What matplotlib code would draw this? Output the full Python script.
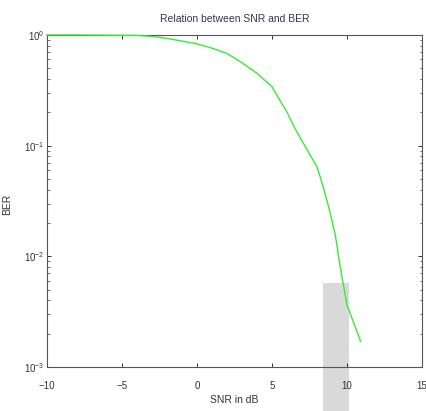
import matplotlib
matplotlib.use("Agg")
import matplotlib.pyplot as plt
from matplotlib.patches import Rectangle
from matplotlib.ticker import LogLocator, FixedLocator

plt.rcParams['font.family'] = ['Liberation Sans', 'DejaVu Sans']

snr_db = [-10, -8, -6, -4, -3, -2, -1, 0, 1, 2, 3, 4, 5, 5.5, 6, 6.5, 7, 7.5,
          8, 8.4, 8.8, 9.2, 9.55, 10, 10.4, 10.9]
ber = [1.0, 1.0, 0.995, 0.99, 0.97, 0.93, 0.88, 0.83, 0.76, 0.68, 0.56, 0.45,
       0.34, 0.26, 0.2, 0.145, 0.11, 0.084, 0.064, 0.043, 0.027, 0.016, 0.0079,
       0.0036, 0.0026, 0.0017]
x_ticks = [-10, -5, 0, 5, 10, 15]
# grey overlay band (artifact in the source image), in data units
band_x = [8.4, 10.13]
band_y = [10 ** -3.42, 0.0058]

fig = plt.figure(figsize=(4.26, 4.11), dpi=100)
ax = fig.add_axes([0.110, 0.107, 0.881, 0.808])

ax.plot(snr_db, ber, color='#33ee33', lw=1.0, zorder=3, clip_on=False)
ax.add_patch(Rectangle((band_x[0], band_y[0]), band_x[1] - band_x[0],
                       band_y[1] - band_y[0], facecolor='#d9d9d9',
                       edgecolor='none', zorder=1, clip_on=False))

ax.set_yscale('log')
ax.set_xlim(-10, 15)
ax.set_ylim(1e-3, 1)
ax.xaxis.set_major_locator(FixedLocator(x_ticks))
ax.yaxis.set_major_locator(LogLocator(base=10, numticks=10))
ax.yaxis.set_minor_locator(LogLocator(base=10, subs=range(2, 10), numticks=10))

ax.tick_params(which='both', direction='in', top=True, right=True,
               labelsize=7, colors='#333333', pad=2)
ax.tick_params(axis='x', pad=10)
ax.tick_params(which='major', length=3, width=0.7)
ax.tick_params(which='minor', length=1.8, width=0.5)
for s in ax.spines.values():
    s.set_color('#555555')
    s.set_linewidth(0.8)
ax.set_facecolor('none')

ax.set_title('Relation between SNR and BER', fontsize=7.5, color='#333355', pad=9)
ax.set_xlabel('SNR in dB', fontsize=7.5, color='#333333', labelpad=3)
ax.set_ylabel('BER', fontsize=7.5, color='#333333')
ax.yaxis.set_label_coords(-0.093, 0.49)

fig.savefig('out.png', dpi=100)
